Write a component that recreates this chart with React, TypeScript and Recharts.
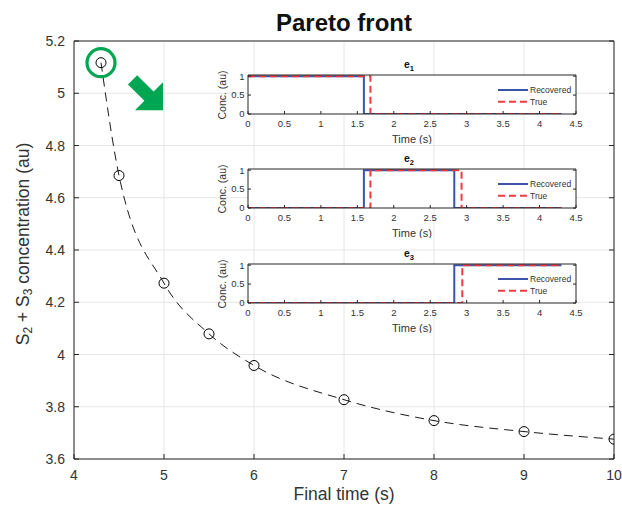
import { LineChart, Line, XAxis, YAxis, CartesianGrid, ReferenceDot, Legend, Label } from "recharts"

// Pareto front
const finalTimes = [4.3, 4.5, 5, 5.5, 6, 7, 8, 9, 10]
const concentration = [5.117, 4.685, 4.273, 4.079, 3.958, 3.827, 3.747, 3.705, 3.676]
const xTicks = [4, 5, 6, 7, 8, 9, 10]
const yTicks = [3.6, 3.8, 4, 4.2, 4.4, 4.6, 4.8, 5, 5.2]

// inset step profiles (switch times / levels)
const timeTicks = [0, 0.5, 1, 1.5, 2, 2.5, 3, 3.5, 4, 4.5]
const concTicks = [0, 0.5, 1]

const e1RecTimes = [0, 1.59, 4.3]
const e1RecVals = [1, 0, 0]
const e1TrueTimes = [0, 1.68, 4.3]
const e1TrueVals = [1, 0, 0]

const e2RecTimes = [0, 1.59, 2.83, 4.3]
const e2RecVals = [0, 1, 0, 0]
const e2TrueTimes = [0, 1.68, 2.93, 4.3]
const e2TrueVals = [0, 1, 0, 0]

const e3RecTimes = [0, 2.83, 4.3]
const e3RecVals = [0, 1, 1]
const e3TrueTimes = [0, 2.94, 4.3]
const e3TrueVals = [0, 1, 1]

// annotation anchors (data units)
const arrowAt = { t: 4.8, c: 5.0 }

const AX = "#262626"
const TXT = "#333"
const BLUE = "#3a55a8"
const RED = "#ef3b3f"
const GREEN = "#00a651"

const zip = (ts: number[], vs: number[]) => ts.map((t, i) => ({ t, v: vs[i] }))
const pareto = zip(finalTimes, concentration)

const insets = [
  { idx: "1", top: 74.7, rec: zip(e1RecTimes, e1RecVals), tru: zip(e1TrueTimes, e1TrueVals) },
  { idx: "2", top: 169.3, rec: zip(e2RecTimes, e2RecVals), tru: zip(e2TrueTimes, e2TrueVals) },
  { idx: "3", top: 264, rec: zip(e3RecTimes, e3RecVals), tru: zip(e3TrueTimes, e3TrueVals) },
]

// MATLAB-style inward ticks, label drawn by hand
function makeTick(side: string, len: number, size = 0, gap = 0) {
  return (props: any) => {
    const { x, y, payload } = props
    const v = payload.value
    if (side === "bottom")
      return (
        <g>
          <line x1={x} y1={y} x2={x} y2={y - len} stroke={AX} />
          <text x={x} y={y + gap} textAnchor="middle" fontSize={size} fill={TXT}>
            {v}
          </text>
        </g>
      )
    if (side === "left")
      return (
        <g>
          <line x1={x} y1={y} x2={x + len} y2={y} stroke={AX} />
          <text x={x - gap} y={y + size * 0.36} textAnchor="end" fontSize={size} fill={TXT}>
            {v}
          </text>
        </g>
      )
    if (side === "top") return <line x1={x} y1={y} x2={x} y2={y + len} stroke={AX} />
    return <line x1={x} y1={y} x2={x - len} y2={y} stroke={AX} />
  }
}

const OpenCircle = (p: any) => (
  <circle key={p.index} cx={p.cx} cy={p.cy} r={5} fill="none" stroke="#000" strokeWidth={1} />
)

const Arrow = (p: any) => {
  const tip = 24, h = 19.8, H = 19.8, w = 6.5, tail = -19
  const hb = tip - h
  const pts = [[tail, -w], [hb, -w], [hb, -H], [tip, 0], [hb, H], [hb, w], [tail, w]]
  return (
    <polygon
      transform={`translate(${p.cx},${p.cy}) rotate(45)`}
      points={pts.map((q) => q.join(",")).join(" ")}
      fill={GREEN}
    />
  )
}

const seriesStyle: any = {
  Recovered: { stroke: BLUE, dash: undefined },
  True: { stroke: RED, dash: "7 4" },
}

function InsetLegend(props: any) {
  const items = props.payload ?? []
  return (
    <svg width={82} height={30} style={{ display: "block" }}>
      {items.map((it: any, i: number) => {
        const s = seriesStyle[it.value] ?? { stroke: it.color }
        const ly = 5 + i * 11.7
        return (
          <g key={it.value}>
            <line x1={1} x2={31} y1={ly} y2={ly} stroke={s.stroke} strokeWidth={2} strokeDasharray={s.dash} />
            <text x={33} y={ly + 3} fontSize={8.5} fill={TXT}>
              {it.value}
            </text>
          </g>
        )
      })}
    </svg>
  )
}

function Inset({ idx, top, rec, tru }: any) {
  const left = 200
  return (
    <div style={{ position: "absolute", left, top: top - 22 }}>
      <LineChart width={386} height={91} margin={{ top: 21, right: 9, bottom: 0, left: 0 }}>
        <CartesianGrid fill="#fff" horizontal={false} vertical={false} />
        <XAxis
          type="number"
          dataKey="t"
          domain={[0, 4.5]}
          ticks={timeTicks}
          interval={0}
          height={30}
          tickSize={0}
          tickMargin={0}
          tickLine={false}
          axisLine={{ stroke: AX }}
          tick={makeTick("bottom", 3, 9.5, 12.6)}
          allowDataOverflow
        >
          <Label
            content={(p: any) => (
              <text x={p.viewBox.x + p.viewBox.width / 2} y={p.viewBox.y + 29} textAnchor="middle" fontSize={11} fill={TXT}>
                Time (s)
              </text>
            )}
          />
        </XAxis>
        <XAxis
          xAxisId="top"
          orientation="top"
          type="number"
          domain={[0, 4.5]}
          ticks={timeTicks}
          interval={0}
          height={1}
          tickSize={0}
          tickMargin={0}
          tickLine={false}
          axisLine={{ stroke: AX }}
          tick={makeTick("top", 3)}
          allowDataOverflow
        >
          <Label
            content={(p: any) => (
              <text x={p.viewBox.x + p.viewBox.width / 2 - 3} y={p.viewBox.y - 6.5} textAnchor="middle" fontSize={10.5} fontWeight="bold" fill="#111">
                e<tspan dy={3} fontSize={7.5}>{idx}</tspan>
              </text>
            )}
          />
        </XAxis>
        <YAxis
          type="number"
          domain={[0, 1.03]}
          ticks={concTicks}
          interval={0}
          width={48}
          tickSize={0}
          tickMargin={0}
          tickLine={false}
          axisLine={{ stroke: AX }}
          tick={makeTick("left", 3, 9.5, 3.5)}
          allowDataOverflow
        >
          <Label
            content={(p: any) => {
              const cx = p.viewBox.x + 22
              const cy = p.viewBox.y + 20
              return (
                <text transform={`translate(${cx},${cy}) rotate(-90)`} textAnchor="middle" dominantBaseline="central" fontSize={10.5} fill={TXT}>
                  Conc. (au)
                </text>
              )
            }}
          />
        </YAxis>
        <YAxis
          yAxisId="right"
          orientation="right"
          type="number"
          domain={[0, 1.03]}
          ticks={concTicks}
          interval={0}
          width={1}
          tickSize={0}
          tickMargin={0}
          tickLine={false}
          axisLine={{ stroke: AX }}
          tick={makeTick("right", 3)}
          allowDataOverflow
        />
        <Line
          data={rec}
          dataKey="v"
          name="Recovered"
          type="stepAfter"
          stroke={BLUE}
          strokeWidth={2}
          dot={false}
          isAnimationActive={false}
        />
        <Line
          data={tru}
          dataKey="v"
          name="True"
          type="stepAfter"
          stroke={RED}
          strokeWidth={2}
          strokeDasharray="7 4"
          dot={false}
          isAnimationActive={false}
        />
        <Legend
          content={InsetLegend}
          layout="horizontal"
          verticalAlign="middle"
          align="center"
          wrapperStyle={{ left: 297, top: 32, width: 82, height: 30 }}
        />
      </LineChart>
    </div>
  )
}

export default function App() {
  return (
    <div
      style={{
        position: "absolute",
        left: 0,
        top: 0,
        width: 622,
        height: 511,
        background: "#fff",
        fontFamily: "'Liberation Sans', Arial, Helvetica, sans-serif",
      }}
    >
      <LineChart width={622} height={511} margin={{ top: 40, right: 7, bottom: 0, left: 0 }}>
        <CartesianGrid stroke="#e6e6e6" />
        <XAxis
          type="number"
          dataKey="t"
          domain={[4, 10]}
          ticks={xTicks}
          interval={0}
          height={52}
          tickSize={0}
          tickMargin={0}
          tickLine={false}
          axisLine={{ stroke: AX }}
          tick={makeTick("bottom", 5, 14, 21)}
          allowDataOverflow
        >
          <Label
            content={(p: any) => (
              <text x={p.viewBox.x + p.viewBox.width / 2} y={p.viewBox.y + 41} textAnchor="middle" fontSize={17.5} fill={TXT}>
                Final time (s)
              </text>
            )}
          />
        </XAxis>
        <XAxis
          xAxisId="top"
          orientation="top"
          type="number"
          domain={[4, 10]}
          ticks={xTicks}
          interval={0}
          height={1}
          tickSize={0}
          tickMargin={0}
          tickLine={false}
          axisLine={{ stroke: AX }}
          tick={makeTick("top", 5)}
          allowDataOverflow
        >
          <Label
            content={(p: any) => (
              <text x={p.viewBox.x + p.viewBox.width / 2} y={p.viewBox.y - 9} textAnchor="middle" fontSize={24} fontWeight="bold" fill="#111">
                Pareto front
              </text>
            )}
          />
        </XAxis>
        <YAxis
          type="number"
          domain={[3.6, 5.2]}
          ticks={yTicks}
          interval={0}
          width={74}
          tickSize={0}
          tickMargin={0}
          tickLine={false}
          axisLine={{ stroke: AX }}
          tick={makeTick("left", 5, 14, 9)}
          allowDataOverflow
        >
          <Label
            content={(p: any) => {
              const cx = p.viewBox.x + 23
              const cy = p.viewBox.y + p.viewBox.height / 2 - 6
              return (
                <text transform={`translate(${cx},${cy}) rotate(-90)`} textAnchor="middle" dominantBaseline="central" fontSize={17.5} fill={TXT}>
                  S<tspan dy={5} fontSize={12}>2</tspan>
                  <tspan dy={-5}> + S</tspan>
                  <tspan dy={5} fontSize={12}>3</tspan>
                  <tspan dy={-5}> concentration (au)</tspan>
                </text>
              )
            }}
          />
        </YAxis>
        <YAxis
          yAxisId="right"
          orientation="right"
          type="number"
          domain={[3.6, 5.2]}
          ticks={yTicks}
          interval={0}
          width={1}
          tickSize={0}
          tickMargin={0}
          tickLine={false}
          axisLine={{ stroke: AX }}
          tick={makeTick("right", 5)}
          allowDataOverflow
        />
        <Line
          data={pareto}
          dataKey="v"
          type="monotone"
          stroke="#000"
          strokeWidth={0.9}
          strokeDasharray="9 6"
          dot={OpenCircle}
          isAnimationActive={false}
        />
        <ReferenceDot x={finalTimes[0]} y={concentration[0]} r={14} fill="none" stroke={GREEN} strokeWidth={3.2} />
        <ReferenceDot x={arrowAt.t} y={arrowAt.c} shape={Arrow} />
      </LineChart>
      {insets.map((d) => (
        <Inset key={d.idx} {...d} />
      ))}
    </div>
  )
}
